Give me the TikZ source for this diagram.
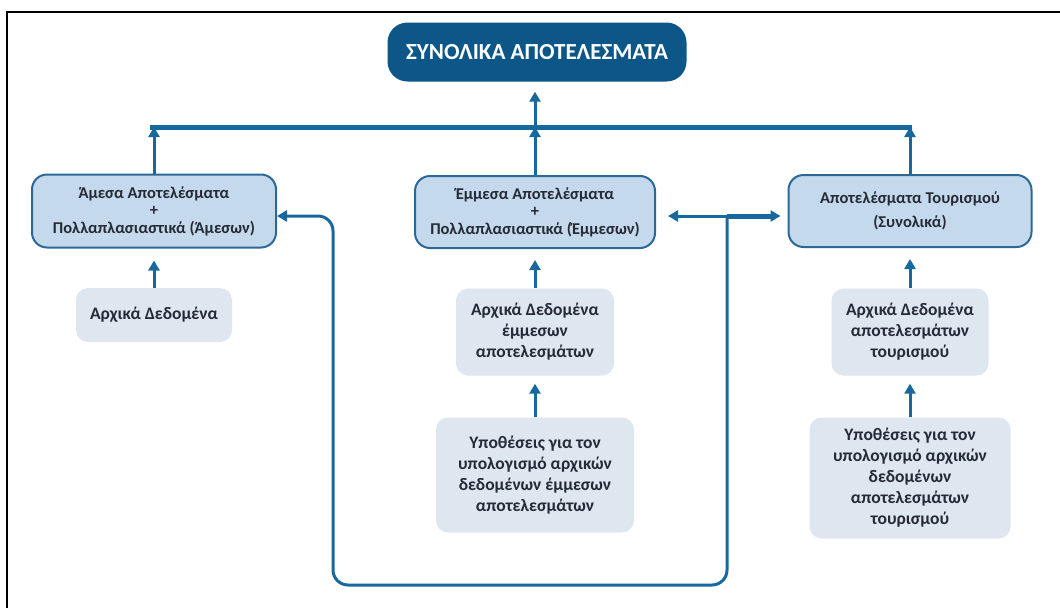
\documentclass[tikz,border=0pt]{standalone}
\usepackage{fontspec}
\setmainfont{Carlito}
\usetikzlibrary{arrows.meta, positioning, calc}

\definecolor{linkblue}{RGB}{24,104,160}
\definecolor{topblue}{RGB}{12,86,136}
\definecolor{boxfill}{RGB}{196,217,236}
\definecolor{boxline}{RGB}{44,104,150}
\definecolor{datafill}{RGB}{222,230,239}
\definecolor{boxtext}{RGB}{38,42,54}

\begin{document}
\begin{tikzpicture}[
  x=1pt, y=-1pt,
  result/.style={draw=boxline, line width=2pt, fill=boxfill, rounded corners=15pt, align=center, text=boxtext, inner sep=0pt, font=\bfseries\fontsize{16.5}{17.5}\selectfont},
  data/.style={fill=datafill, rounded corners=12pt, align=center, text=boxtext, inner sep=0pt, font=\bfseries\fontsize{17.5}{21}\selectfont},
  arrow/.style={-{Triangle[length=10pt, width=11pt]}, line width=3pt, linkblue},
]
\useasboundingbox (0,0) rectangle (1060,608);

% πλαίσιο
\draw[line width=2pt] (7,608) -- (7,12) -- (1060,12);

% συνολικά αποτελέσματα
\node[fill=topblue, rounded corners=20pt, minimum width=299pt, minimum height=59pt, text=white, font=\bfseries\fontsize{23}{25}\selectfont] (total) at (537,52) {ΣΥΝΟΛΙΚΑ ΑΠΟΤΕΛΕΣΜΑΤΑ};

% κύρια αποτελέσματα
\node[result, minimum width=244pt, minimum height=73pt] (direct) at (154,211) {Άμεσα Αποτελέσματα\\+\\Πολλαπλασιαστικά (Άμεσων)};
\node[result, minimum width=240pt, minimum height=72pt] (indirect) at (535,212) {Έμμεσα Αποτελέσματα\\+\\Πολλαπλασιαστικά (Έμμεσων)};
\node[result, minimum width=243pt, minimum height=72pt, font=\bfseries\fontsize{16.5}{24}\selectfont] (tourism) at (910,211) {Αποτελέσματα Τουρισμού\\(Συνολικά)};

% δεδομένα και υποθέσεις
\node[data, minimum width=156pt, minimum height=54pt] (directdata) at (154,315) {Αρχικά Δεδομένα};
\node[data, minimum width=158pt, minimum height=87pt] (indirectdata) at (535,332) {Αρχικά Δεδομένα\\έμμεσων\\αποτελεσμάτων};
\node[data, minimum width=198pt, minimum height=115pt] (indirecthyp) at (535,475) {Υποθέσεις για τον\\υπολογισμό αρχικών\\δεδομένων έμμεσων\\αποτελεσμάτων};
\node[data, minimum width=157pt, minimum height=87pt] (tourismdata) at (910,332) {Αρχικά Δεδομένα\\αποτελεσμάτων\\τουρισμού};
\node[data, minimum width=201pt, minimum height=121pt] (tourismhyp) at (910,478) {Υποθέσεις για τον\\υπολογισμό αρχικών\\δεδομένων\\αποτελεσμάτων\\τουρισμού};

% προς τη συνολική γραμμή
\coordinate (bar) at (535,127);
\draw[arrow] (direct.north) -- (direct.north |- bar);
\draw[arrow] (indirect.north) -- (indirect.north |- bar);
\draw[arrow] (tourism.north) -- (tourism.north |- bar);
\draw[line width=5pt, linkblue] ([xshift=-4pt]direct.north |- bar) -- ([xshift=2pt]tourism.north |- bar);
\draw[arrow, shorten >=10pt] (bar) -- (bar |- total.south);

% από κάτω προς τα πάνω
\draw[arrow, shorten >=12pt] (directdata.north) -- (directdata.north |- direct.south);
\draw[arrow, shorten >=11pt] (indirectdata.north) -- (indirectdata.north |- indirect.south);
\draw[arrow, shorten >=8pt] (indirecthyp.north) -- (indirecthyp.north |- indirectdata.south);
\draw[arrow, shorten >=11pt] (tourismdata.north) -- (tourismdata.north |- tourism.south);
\draw[arrow, shorten >=8pt] (tourismhyp.north) -- (tourismhyp.north |- tourismdata.south);

% βρόχος ανατροφοδότησης
\coordinate (split) at (727,216);
\coordinate (loopbottom) at (530,585);
\coordinate (loopleft) at (333,216);
\draw[arrow, rounded corners=15pt] (split) |- (loopbottom) -| (loopleft) -- (direct.east |- loopleft);
\draw[arrow, shorten >=12pt] (split) -- (indirect.east |- split);
\draw[arrow, line width=5pt, shorten >=7pt] (split) -- (tourism.west |- split);

\end{tikzpicture}
\end{document}
